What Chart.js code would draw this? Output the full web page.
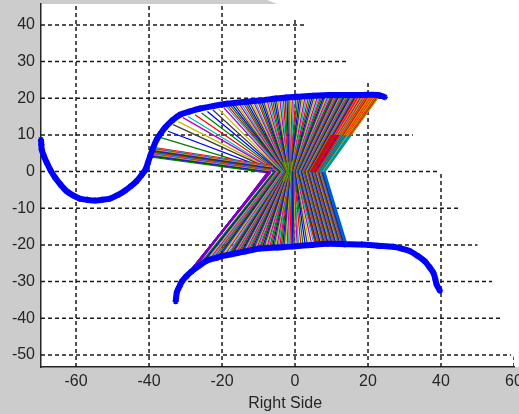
<!DOCTYPE html>
<html>
<head>
<meta charset="utf-8">
<title>Right Side</title>
<script src="https://cdn.jsdelivr.net/npm/chart.js@4"></script>
<style>
  html, body { margin: 0; padding: 0; background: #fff; }
  canvas { display: block; }
</style>
</head>
<body>
<canvas id="graph" width="519" height="414"></canvas>
<script>
// -------------------------
// DATA
// -------------------------
const xTicks = [-60, -40, -20, 0, 20, 40, 60];
const yTicks = [40, 30, 20, 10, 0, -10, -20, -30, -40, -50];
const xTitle = "Right Side";

// the grid stops short on the upper right, so each line has its own end
const hGridEnd = [3, 14.8, 24, 32.3, 39.7, 44.7, 50, 54, 56.7, 59.2];
const vGridTop = [45.7, 45.7, 45.7, 42, 25, 0, -50.5];

const upperX = [-69.6, -69.5, -69.4, -68.8, -68, -67, -65.7, -64.2, -62.5, -60.8, -59, -57, -54.8, -52.8, -50.7, -48.6, -46.6, -45, -43.4, -42.1, -41, -40.3, -39.7, -38.9, -37.9, -36.8, -35.6, -33.6, -31.5, -28.8, -26, -22.3, -18.7, -14.2, -9.6, -5.3, -2.4, 0.5, 5, 9.6, 14, 18.4, 22.8, 24.6];
const upperY = [8.7, 7.3, 6, 4.2, 2.4, 0.4, -1.7, -3.6, -5.4, -6.5, -7.4, -7.7, -7.9, -7.7, -7.4, -6.4, -5.2, -4, -2.6, -1, 0.5, 2.4, 4.2, 6.4, 8.7, 10.4, 12, 14, 15.5, 16.4, 17.2, 17.9, 18.5, 19, 19.4, 19.9, 20.2, 20.4, 20.7, 20.9, 20.9, 20.9, 20.9, 20.3];

const lowerX = [-32.7, -32.4, -32, -31.5, -31, -29.8, -28.3, -26.3, -24.2, -21.5, -18.7, -14.2, -9.6, -4.8, 0, 4.5, 9, 13.6, 18.3, 22.6, 26.9, 29.2, 31.5, 33.6, 35.6, 36.8, 37.9, 38.4, 38.8, 39.7];
const lowerY = [-35.4, -33, -32, -31, -30, -28.6, -27.2, -25.7, -24.3, -23.5, -22.8, -21.9, -21, -20.7, -20.4, -20, -19.7, -19.8, -19.9, -20.2, -20.5, -21, -21.7, -23, -24.5, -26, -27.6, -29.2, -30.8, -32.5];

// each ray goes upper curve -> waist near y = 0 -> lower curve
const rayTopX = [
  -39.8, -39.75, -39.7, -39.6, -39.55, -39.5, -39.4, -39.3, -39.25, -39.2, -39.1, -39.05, -39, -38.9,
  -37, -34.8, -33.4, -32, -30.7, -29.3, -27.4, -25.6, -24, -22.5, -21, -19.5,
  -18.8, -18.2, -17.6, -17, -16.4, -15.8, -15.2, -14.6, -14, -13.5,
  -13, -12.4, -11.9, -11.3, -10.8, -10.2, -9.7, -9.2, -8.7, -8.2,
  -7.7, -7.2, -6.7, -6.2, -5.7, -5.2, -4.7, -4.2, -3.7, -3.2,
  -2.7, -2.2, -1.7, -1.2, -0.7, -0.2, 0.3, 0.8, 1.3, 1.8,
  2.3, 2.8, 3.3, 3.8, 4.3, 4.8, 5.3, 5.8, 6.3, 6.8,
  7.2, 7.6, 8, 8.4, 8.8, 9.2, 9.6, 10,
  10.2, 10.4, 10.7, 10.9, 11.1, 11.3, 11.6, 11.8, 12, 12.2,
  12.5, 12.7, 12.9, 13.1, 13.4, 13.6, 13.8, 14, 14.3, 14.5,
  14.7, 14.9, 15.2, 15.4, 15.6, 15.8, 16.1, 16.3, 16.5, 16.7,
  17, 17.2, 17.4, 17.6, 17.9, 18.1, 18.3, 18.5, 18.8, 19,
  19.2, 19.4, 19.7, 19.9, 20.1, 20.3, 20.6, 20.8, 21, 21.2,
  21.5, 21.7, 21.9, 22.1, 22.3, 22.5, 22.7, 22.9, 23.1, 23.3
];
const rayTopY = [
  4, 4.2, 4.4, 4.6, 4.8, 5, 5.2, 5.4, 5.6, 5.8, 6, 6.2, 6.4, 6.6,
  9.3, 11, 12.8, 13.6, 14.7, 15, 15.5, 16, 16.4, 16.8, 17.1, 17.4,
  17.7, 17.8, 17.9, 18, 18.1, 18.2, 18.3, 18.4, 18.5, 18.6,
  18.7, 18.8, 18.9, 19, 19, 19.2, 19.2, 19.3, 19.4, 19.4,
  19.5, 19.6, 19.6, 19.7, 19.8, 19.9, 19.9, 20, 20, 20.1,
  20.1, 20.2, 20.2, 20.3, 20.3, 20.4, 20.4, 20.5, 20.5, 20.6,
  20.6, 20.6, 20.7, 20.7, 20.7, 20.8, 20.8, 20.8, 20.8, 20.8,
  20.9, 20.9, 20.9, 20.9, 20.9, 20.9, 20.9, 20.9,
  20.9, 20.9, 20.9, 20.9, 20.9, 20.9, 20.9, 20.9, 20.9, 20.9,
  20.9, 20.9, 20.9, 20.9, 20.9, 20.9, 20.9, 20.9, 20.9, 20.9,
  20.9, 20.9, 20.9, 20.9, 20.9, 20.9, 20.9, 20.9, 20.9, 20.9,
  20.9, 20.9, 20.9, 20.9, 20.9, 20.9, 20.9, 20.9, 20.9, 20.9,
  20.9, 20.9, 20.9, 20.9, 20.9, 20.9, 20.9, 20.9, 20.9, 20.9,
  20.9, 20.9, 20.9, 20.9, 20.9, 20.9, 20.9, 20.9, 20.9, 20.9
];
const rayMidX = [
  -6.8, -6.8, -6.7, -6.7, -6.6, -6.6, -6.5, -6.5, -6.4, -6.4, -6.3, -6.3, -6.2, -6.2,
  -5.8, -5.6, -5.4, -5.2, -5, -4.8, -4.6, -4.4, -4.2, -4, -3.8, -3.6,
  -3.3, -3.2, -3.15, -3.1, -3.05, -3, -2.95, -2.9, -2.85, -2.8,
  -2.75, -2.7, -2.65, -2.6, -2.55, -2.5, -2.45, -2.4, -2.35, -2.3,
  -2.25, -2.2, -2.15, -2.1, -2.05, -2, -1.95, -1.9, -1.85, -1.8,
  -1.75, -1.7, -1.65, -1.6, -1.55, -1.5, -1.45, -1.4, -1.35, -1.3,
  -1.25, -1.2, -1.1, -1, -0.9, -0.8, -0.7, -0.6, -0.5, -0.4,
  -0.3, -0.2, -0.1, 0, 0.1, 0.2, 0.3, 0.4,
  0.6, 0.7, 0.9, 1, 1.1, 1.3, 1.4, 1.5, 1.7, 1.8,
  1.9, 2.1, 2.2, 2.3, 2.5, 2.6, 2.7, 2.9, 3, 3.1,
  3.3, 3.4, 3.5, 3.7, 3.8, 3.9, 4.1, 4.2, 4.3, 4.5,
  4.6, 4.7, 4.9, 5, 5.1, 5.3, 5.4, 5.5, 5.7, 5.8,
  5.9, 6.1, 6.2, 6.3, 6.5, 6.6, 6.7, 6.9, 7, 7.1,
  7.2, 7.3, 7.4, 7.5, 7.6, 7.7, 7.8, 7.9, 8.05, 8.2
];
// only the thick left band keeps some height at the waist
const leftBandMidY = [-0.4, -0.25, -0.1, 0.05, 0.2, 0.35, 0.5, 0.65, 0.8, 0.95, 1.1, 1.25, 1.4, 1.6];
const rayBotX = [
  -31.6, -31.3, -31, -30.6, -30.2, -29.8, -29.4, -29, -28.6, -28.2, -27.8, -27.4, -27, -26.6,
  -25.8, -25.2, -24.6, -24, -23.4, -22.8, -22.2, -21.6, -21, -20.4, -19.8, -19.2,
  -18.6, -18.2, -17.8, -17.4, -17, -16.6, -16.2, -15.8, -15.4, -15,
  -14.6, -14.2, -13.8, -13.4, -13, -12.6, -12.2, -11.8, -11.4, -11,
  -10.6, -10.2, -9.8, -9.4, -9, -8.6, -8.2, -7.8, -7.4, -7,
  -6.6, -6.2, -5.8, -5.4, -5, -4.6, -4.2, -3.8, -3.4, -3,
  -2.6, -2.2, -1.8, -1.4, -1, -0.6, -0.2, 0.2, 0.6, 1,
  1.6, 2.2, 2.8, 3.4, 4, 4.6, 5.2, 5.6,
  5.7, 5.8, 6, 6.1, 6.3, 6.4, 6.6, 6.7, 6.9, 7,
  7.2, 7.3, 7.5, 7.6, 7.8, 7.9, 8.1, 8.2, 8.4, 8.5,
  8.7, 8.8, 9, 9.1, 9.3, 9.4, 9.6, 9.7, 9.9, 10,
  10.2, 10.3, 10.5, 10.6, 10.8, 10.9, 11.1, 11.2, 11.4, 11.5,
  11.7, 11.8, 12, 12.1, 12.3, 12.4, 12.6, 12.7, 12.9, 13,
  13.1, 13.2, 13.3, 13.4, 13.5, 13.6, 13.7, 13.8, 14, 14.2
];
const rayBotY = [
  -31, -30.6, -30, -29.4, -28.9, -28.4, -27.9, -27.4, -27, -26.6, -26.2, -25.9, -25.6, -25.3,
  -24.9, -24.6, -24.3, -24.1, -23.9, -23.7, -23.5, -23.4, -23.2, -23, -22.9, -22.7,
  -22.7, -22.6, -22.5, -22.4, -22.3, -22.2, -22.1, -22, -21.9, -21.8,
  -21.8, -21.7, -21.6, -21.6, -21.5, -21.4, -21.4, -21.3, -21.3, -21.2,
  -21.2, -21.1, -21.1, -21, -21, -20.9, -20.9, -20.9, -20.8, -20.8,
  -20.8, -20.7, -20.7, -20.7, -20.7, -20.6, -20.6, -20.6, -20.5, -20.5,
  -20.5, -20.5, -20.4, -20.4, -20.3, -20.3, -20.3, -20.2, -20.2, -20.2,
  -20.1, -20.1, -20, -20, -19.9, -19.9, -19.9, -19.8,
  -19.8, -19.8, -19.8, -19.8, -19.8, -19.8, -19.8, -19.8, -19.8, -19.8,
  -19.7, -19.7, -19.7, -19.7, -19.7, -19.7, -19.7, -19.7, -19.7, -19.7,
  -19.7, -19.7, -19.7, -19.7, -19.7, -19.7, -19.7, -19.7, -19.7, -19.7,
  -19.7, -19.7, -19.7, -19.7, -19.7, -19.7, -19.7, -19.7, -19.7, -19.7,
  -19.7, -19.7, -19.7, -19.7, -19.7, -19.7, -19.7, -19.7, -19.7, -19.7,
  -19.7, -19.7, -19.7, -19.7, -19.7, -19.7, -19.7, -19.7, -19.7, -19.7
];
const rayColors = ["#008000", "#0000ff", "#404040", "#bfbf00", "#bf00bf", "#00bfbf", "#ff0000"];
const orangeColors = ["#ff0000", "#ff8000", "#d08000"];
const tealColors = ["#00bfbf", "#008080", "#0090c0"];
const waistColors = ["#609000", "#80a000", "#308000"];
const purpleColors = ["#7000c0", "#bf00bf", "#4000d0"];
const edgeColors = ["#0000ff", "#00bfbf"];

const X_MIN = -69.6, X_MAX = 60, Y_MIN = -53.3, Y_MAX = 45.7;
const GRAY = "#cccccc", INK = "#262626";
const RIGHT_START = rayTopX.length - 60; // first ray of the dense right band

// -------------------------
// DATASETS
// -------------------------
function gridLine(points) {
  return {
    data: points, showLine: true, pointRadius: 0, order: 3,
    borderColor: "#1a1a1a", borderWidth: 1.5, borderDash: [4, 3]
  };
}

// overdrawn rays read as colour bands in the original, so colour by height
function rayStroke(i) {
  return (ctx) => {
    const base = rayColors[i % rayColors.length];
    const yScale = ctx.chart.scales.y;
    const isLeft = i < leftBandMidY.length;
    const isRight = i >= RIGHT_START;
    const isWaist = rayMidX[i] > -2.7 && rayMidX[i] < -1 && i % 3 !== 0;
    if (!yScale || !(isLeft || isRight || isWaist)) return base;

    const y0 = yScale.getPixelForValue(21);
    const y1 = yScale.getPixelForValue(-21);
    if (!isFinite(y0) || !isFinite(y1)) return base; // scale not laid out yet

    const grad = ctx.chart.ctx.createLinearGradient(0, y0, 0, y1);
    const band = (from, to, color) => {
      grad.addColorStop(from, color);
      grad.addColorStop(to, color);
    };
    if (isLeft) {
      band(0, 0.5, base);
      band(0.5, 1, purpleColors[i % purpleColors.length]);
      return grad;
    }
    if (isWaist) {
      band(0, 0.44, base);
      band(0.44, 0.56, waistColors[i % waistColors.length]);
      band(0.56, 1, base);
      return grad;
    }
    const t = (i - RIGHT_START) / 60;
    const keepBase = i % 4 === 0;
    band(0, 0.26, t < 0.5 || keepBase ? base : orangeColors[i % 3]);
    band(0.26, 0.5, t < 0.4 || keepBase ? base : t < 0.7 ? "#e00000" : tealColors[i % 3]);
    band(0.5, 1, t > 0.85 ? edgeColors[i % 2] : base);
    return grad;
  };
}

function buildDatasets() {
  const sets = [];

  yTicks.forEach((y, i) => {
    sets.push(gridLine([{ x: X_MIN, y: y }, { x: hGridEnd[i], y: y }]));
  });
  xTicks.forEach((x, i) => {
    sets.push(gridLine([{ x: x, y: Y_MIN }, { x: x, y: vGridTop[i] }]));
  });

  rayTopX.forEach((topX, i) => {
    sets.push({
      data: [
        { x: topX, y: rayTopY[i] },
        { x: rayMidX[i], y: i < leftBandMidY.length ? leftBandMidY[i] : 0 },
        { x: rayBotX[i], y: rayBotY[i] }
      ],
      showLine: true, pointRadius: 0, order: 2,
      borderColor: rayStroke(i), borderWidth: 1.3
    });
  });

  [[upperX, upperY], [lowerX, lowerY]].forEach(([xs, ys]) => {
    sets.push({
      data: xs.map((x, i) => ({ x: x, y: ys[i] })),
      showLine: true, order: 1, clip: false, tension: 0.3,
      borderColor: "#0000ff", borderWidth: 6,
      pointStyle: "star", pointRadius: 3, pointBorderColor: "#0000ff", pointBorderWidth: 1.5
    });
  });
  return sets;
}

// -------------------------
// FIGURE BACKGROUND + X TITLE
// -------------------------
const figurePlugin = {
  id: "figure",
  beforeDraw(chart) {
    const { ctx, chartArea: a, width, height } = chart;
    ctx.save();
    ctx.fillStyle = GRAY;
    ctx.fillRect(0, 0, width, height);
    ctx.fillStyle = "#fff";
    ctx.beginPath();
    ctx.moveTo(267, 0);
    ctx.lineTo(width, 0);
    ctx.lineTo(width, a.bottom);
    ctx.lineTo(a.left, a.bottom);
    ctx.lineTo(a.left, a.top);
    ctx.lineTo(277, a.top);
    ctx.closePath();
    ctx.fill();
    ctx.restore();
  },
  afterDraw(chart) {
    const { ctx, scales } = chart;
    ctx.save();
    ctx.fillStyle = INK;
    ctx.font = '16px "Liberation Sans"';
    ctx.textAlign = "center";
    ctx.textBaseline = "middle";
    ctx.fillText(xTitle, scales.x.getPixelForValue(-2.7), 404);
    ctx.restore();
  }
};

// drop the room Chart.js keeps for overhanging tick labels
function fixScale(scale, size) {
  if (scale.isHorizontal()) scale.height = size; else scale.width = size;
  scale.paddingTop = scale.paddingBottom = scale.paddingLeft = scale.paddingRight = 0;
}

// -------------------------
// INIT CHART
// -------------------------
function initChart() {
  const ctx = document.getElementById("graph").getContext("2d");

  new Chart(ctx, {
    type: "scatter",
    data: { datasets: buildDatasets() },
    plugins: [figurePlugin],
    options: {
      responsive: false,
      animation: false,
      devicePixelRatio: 1,
      layout: { autoPadding: false, padding: { top: 4, right: 5, left: 0, bottom: 0 } },
      plugins: { legend: { display: false }, tooltip: { enabled: false } },
      scales: {
        x: {
          type: "linear", min: X_MIN, max: X_MAX,
          afterFit: s => fixScale(s, 47),
          afterBuildTicks: s => { s.ticks = xTicks.map(v => ({ value: v })); },
          grid: { display: false, drawTicks: false },
          border: { color: INK, width: 1.5 },
          ticks: { color: INK, padding: 5, maxRotation: 0, autoSkip: false, font: { family: "Liberation Sans", size: 16 } }
        },
        y: {
          type: "linear", min: Y_MIN, max: Y_MAX,
          afterFit: s => fixScale(s, 41),
          afterBuildTicks: s => { s.ticks = yTicks.map(v => ({ value: v })); },
          grid: { display: false, drawTicks: false },
          border: { color: INK, width: 1.5 },
          ticks: { color: INK, padding: 6, autoSkip: false, font: { family: "Liberation Sans", size: 16 } }
        }
      }
    }
  });
}

initChart();
</script>
</body>
</html>
